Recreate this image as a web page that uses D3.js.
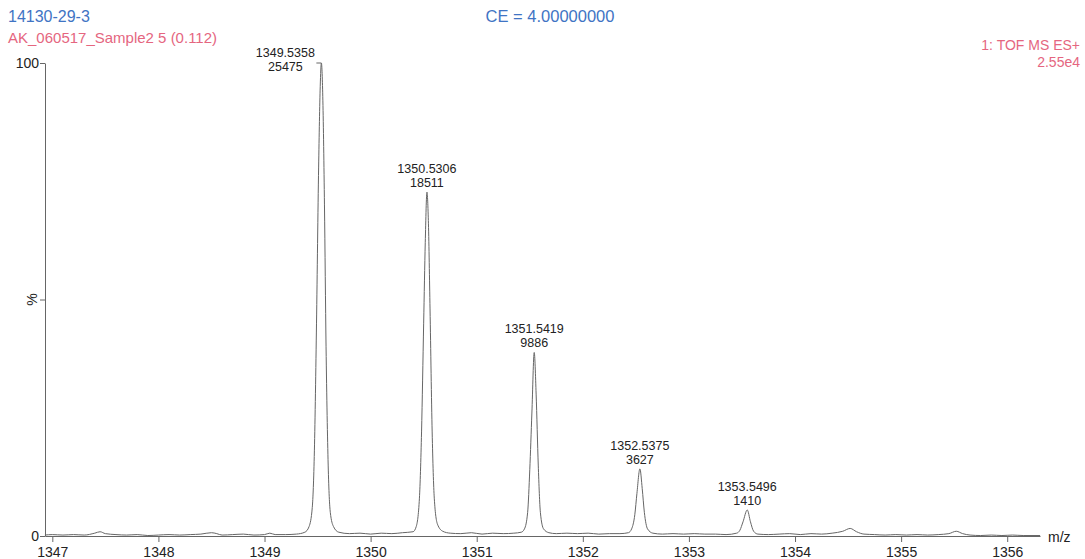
<!DOCTYPE html>
<html>
<head>
<meta charset="utf-8">
<script src="https://cdn.jsdelivr.net/npm/d3@7"></script>
<style>
  body { margin: 0; background: #fff; }
  svg { display: block; font-family: "Liberation Sans", Arial, sans-serif; }
</style>
</head>
<body>
<svg id="chart" width="1085" height="559"></svg>
<script>

// profile spectrum (m/z, % of base peak)
const mzValues = [
    1346.93, 1347.0, 1347.1, 1347.2, 1347.3, 1347.4, 1347.45, 1347.5, 1347.6, 1347.7,
    1347.8, 1347.9, 1348.0, 1348.1, 1348.2, 1348.3, 1348.4, 1348.5, 1348.55, 1348.6,
    1348.7, 1348.8, 1348.9, 1349.0, 1349.05, 1349.1, 1349.2, 1349.3, 1349.38,
    1349.42, 1349.45, 1349.47, 1349.49, 1349.51, 1349.525, 1349.536, 1349.55, 1349.565, 1349.58,
    1349.6, 1349.62, 1349.65, 1349.7,
    1349.8, 1349.9, 1350.0, 1350.1, 1350.2, 1350.3, 1350.4,
    1350.43, 1350.46, 1350.48, 1350.5, 1350.515, 1350.531, 1350.545, 1350.56, 1350.58, 1350.6,
    1350.63, 1350.68,
    1350.75, 1350.85, 1350.95, 1351.05, 1351.15, 1351.25, 1351.35, 1351.42,
    1351.45, 1351.48, 1351.5, 1351.52, 1351.542, 1351.56, 1351.58, 1351.6, 1351.63, 1351.68,
    1351.75, 1351.85, 1351.95, 1352.05, 1352.15, 1352.25, 1352.35, 1352.43,
    1352.46, 1352.49, 1352.51, 1352.538, 1352.56, 1352.58, 1352.61, 1352.66,
    1352.75, 1352.85, 1352.95, 1353.05, 1353.15, 1353.25, 1353.35, 1353.45,
    1353.48, 1353.51, 1353.55, 1353.58, 1353.61, 1353.65,
    1353.75, 1353.85, 1353.95, 1354.05, 1354.15, 1354.25, 1354.35, 1354.45, 1354.52, 1354.58,
    1354.65, 1354.75, 1354.85, 1354.95, 1355.05, 1355.15, 1355.25, 1355.35, 1355.45, 1355.52,
    1355.58, 1355.65, 1355.75, 1355.85, 1355.95, 1356.05, 1356.15, 1356.31
];

const pctValues = [
    0.2, 0.3, 0.2, 0.3, 0.2, 0.6, 0.9, 0.5, 0.3, 0.2,
    0.3, 0.1, 0.2, 0.3, 0.2, 0.3, 0.4, 0.7, 0.5, 0.2,
    0.3, 0.4, 0.2, 0.3, 0.6, 0.3, 0.3, 0.4, 0.8,
    2, 6, 18, 45, 78, 95, 100, 92, 70, 40,
    15, 5, 2, 0.8,
    0.5, 0.6, 0.4, 0.6, 0.5, 0.7, 0.9,
    2, 8, 22, 45, 62, 72.7, 66, 48, 22, 8,
    2.5, 1.0,
    0.6, 0.5, 0.7, 0.4, 0.6, 0.5, 0.6, 0.8,
    1.5, 5, 14, 26, 38.8, 30, 15, 5, 1.5, 0.7,
    0.5, 0.6, 0.5, 0.6, 0.4, 0.5, 0.5, 0.7,
    1.5, 4.5, 9, 14.2, 10, 5, 1.5, 0.6,
    0.4, 0.5, 0.4, 0.5, 0.4, 0.4, 0.3, 0.6,
    1.2, 3, 5.5, 3, 1, 0.4,
    0.3, 0.4, 0.5, 0.3, 0.5, 0.4, 0.6, 1.0, 1.6, 0.9,
    0.4, 0.3, 0.2, 0.3, 0.2, 0.3, 0.2, 0.3, 0.5, 1.0,
    0.5, 0.2, 0.1, 0.2, 0.1, 0.2, 0.1, 0.1
];

// labelled centroid peaks
const peakMz = [1349.5358, 1350.5306, 1351.5419, 1352.5375, 1353.5496];
const peakCounts = [25475, 18511, 9886, 3627, 1410];
const basePeakCounts = 25475;

const xTicks = [1347, 1348, 1349, 1350, 1351, 1352, 1353, 1354, 1355, 1356];
const yTicks = [0, 50, 100];

const svg = d3.select("#chart");

const blue = "#3f74c4";
const pink = "#e5667f";
const ink = "#222";

const x = d3.scaleLinear()
    .domain([1346.931, 1356.309])
    .range([45, 1040]);

const y = d3.scaleLinear()
    .domain([0, 100])
    .range([536, 63]);

// header texts
svg.append("text")
    .attr("x", 8).attr("y", 22)
    .attr("font-size", 16)
    .attr("fill", blue)
    .text("14130-29-3");

svg.append("text")
    .attr("x", 8).attr("y", 43)
    .attr("font-size", 15)
    .attr("fill", pink)
    .text("AK_060517_Sample2 5 (0.112)");

svg.append("text")
    .attr("x", 550).attr("y", 22)
    .attr("font-size", 16.5)
    .attr("text-anchor", "middle")
    .attr("fill", blue)
    .text("CE = 4.00000000");

svg.append("text")
    .attr("x", 1080).attr("y", 50)
    .attr("font-size", 14)
    .attr("text-anchor", "end")
    .attr("fill", pink)
    .text("1: TOF MS ES+");

svg.append("text")
    .attr("x", 1080).attr("y", 67)
    .attr("font-size", 14)
    .attr("text-anchor", "end")
    .attr("fill", pink)
    .text("2.55e4");

// x axis
const xAxis = svg.append("g")
    .attr("transform", `translate(0, ${y(0)})`)
    .call(d3.axisBottom(x).tickValues(xTicks).tickFormat(d3.format("d")).tickSize(6).tickSizeOuter(0));

xAxis.select(".domain").attr("stroke", "#666");
xAxis.selectAll(".tick line").attr("stroke", "#666");
xAxis.selectAll(".tick text")
    .attr("font-size", 14)
    .attr("font-family", "Liberation Sans, Arial, sans-serif")
    .attr("fill", ink)
    .attr("dy", "0.85em");

svg.append("text")
    .attr("x", 1048).attr("y", 542)
    .attr("font-size", 14)
    .attr("fill", ink)
    .text("m/z");

// y axis
const yAxis = svg.append("g")
    .attr("transform", `translate(${x.range()[0]}, 0)`)
    .call(d3.axisLeft(y).tickValues(yTicks).tickFormat(d => d === 50 ? "" : d).tickSize(5).tickSizeOuter(0));

yAxis.select(".domain").attr("stroke", "#666");
yAxis.selectAll(".tick line").attr("stroke", "#666");
yAxis.selectAll(".tick text")
    .attr("font-size", 14)
    .attr("font-family", "Liberation Sans, Arial, sans-serif")
    .attr("fill", ink)
    .attr("x", -6);

svg.append("text")
    .attr("transform", `translate(37, ${y(50)}) rotate(-90)`)
    .attr("font-size", 14)
    .attr("text-anchor", "middle")
    .attr("fill", ink)
    .text("%");

// spectrum trace
const profile = mzValues.map((m, i) => [m, pctValues[i]]);

const line = d3.line()
    .x(d => x(d[0]))
    .y(d => y(d[1]))
    .curve(d3.curveMonotoneX);

svg.append("path")
    .datum(profile)
    .attr("fill", "none")
    .attr("stroke", "#666")
    .attr("stroke-width", 1)
    .attr("d", line);

// peak annotations
const peaks = peakMz.map((m, i) => ({ mz: m, counts: peakCounts[i], pct: peakCounts[i] / basePeakCounts * 100 }));

const labels = svg.selectAll("g.peakLabel")
    .data(peaks)
    .enter()
    .append("g")
    .attr("class", "peakLabel");

labels.each(function (d, i) {

    const g = d3.select(this);
    const px = x(d.mz);
    const py = y(d.pct);

    // base peak label sits to the left with a short leader
    const lx = i === 0 ? px - 36 : px;
    const ly = i === 0 ? py + 8 : py - 5;

    if (i === 0) {
        g.append("line")
            .attr("x1", px - 5).attr("x2", px)
            .attr("y1", py).attr("y2", py)
            .attr("stroke", "#666");
    }

    g.append("text")
        .attr("x", lx).attr("y", ly - 14)
        .attr("text-anchor", "middle")
        .attr("font-size", 12.5)
        .attr("fill", ink)
        .text(d.mz.toFixed(4));

    g.append("text")
        .attr("x", lx).attr("y", ly)
        .attr("text-anchor", "middle")
        .attr("font-size", 12.5)
        .attr("fill", ink)
        .text(d.counts);
});

</script>
</body>
</html>
